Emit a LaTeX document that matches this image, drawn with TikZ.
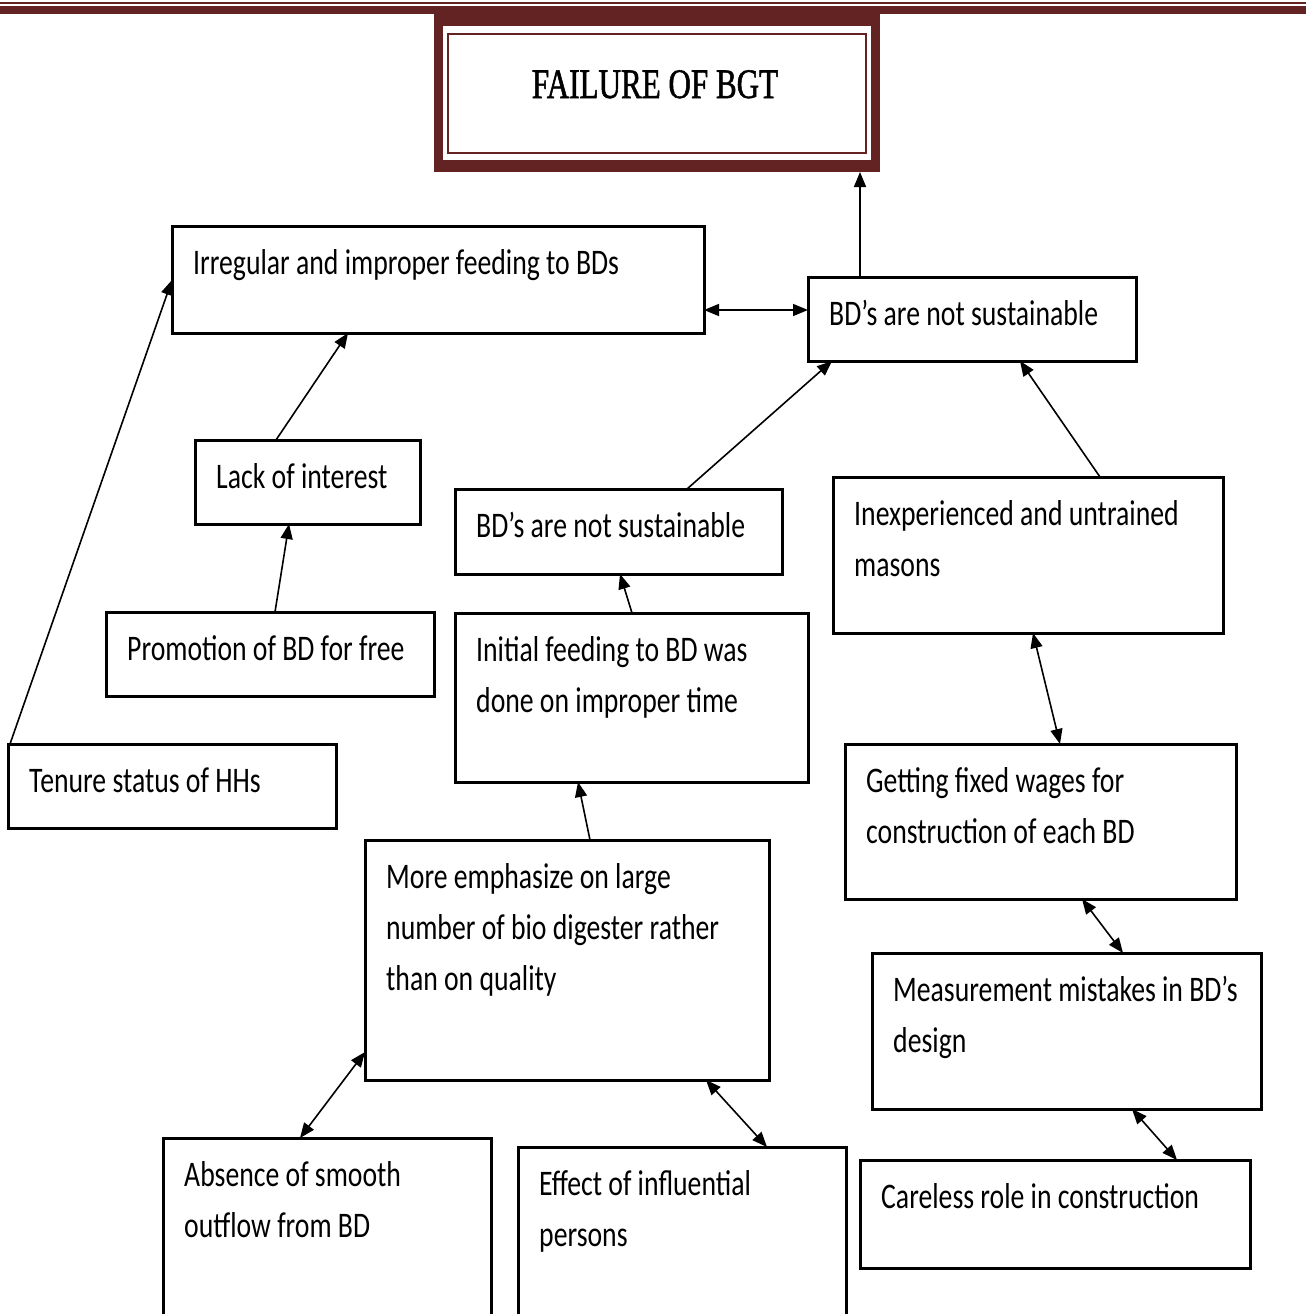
\documentclass[tikz,border=0pt]{standalone}
\usepackage{fontspec}
\setmainfont{Carlito}[FakeStretch=0.77]
\newfontfamily\titlefont{Liberation Serif}[FakeStretch=0.74,FakeBold=1.2]
\usetikzlibrary{arrows.meta}
\definecolor{maroon}{RGB}{100,35,35}
\newcommand\bx[6]{%
  \node[boxst, minimum width=#4pt-#2pt, minimum height=#5pt-#3pt, anchor=north west] (#1) at (#2,#3) {};
  \node[txtst, anchor=base west] (#1t) at (#2+21,#3+48) {\parbox[t]{\dimexpr#4pt-#2pt-24pt\relax}{\raggedright #6}};}
\begin{document}
\begin{tikzpicture}[x=1pt,y=-1pt,
  boxst/.style={draw=black, line width=3pt, fill=white, inner sep=0pt, outer sep=0pt},
  txtst/.style={inner sep=0pt, font=\fontsize{36}{51}\selectfont},
  arr/.style={line width=1.6pt, -{Triangle[length=15pt,width=12pt]}},
  darr/.style={line width=1.6pt, {Triangle[length=15pt,width=12pt]}-{Triangle[length=15pt,width=12pt]}}]
\clip (0,0) rectangle (1306,1314);
\fill[white] (0,0) rectangle (1306,1314);
% top rules
\fill[maroon] (0,2) rectangle (1306,4.5);
\fill[maroon] (0,6) rectangle (1306,14);
% title box
\node[fill=maroon, inner sep=0pt, outer sep=0pt, minimum width=446pt, minimum height=158pt, anchor=north west] (title) at (434,14) {};
\fill[white] (443,26) rectangle (871,160);
\draw[maroon, line width=2.5pt] (448,34) rectangle (866,153);
\node[inner sep=0pt, anchor=base, font=\titlefont\fontsize{42}{42}\selectfont] (titlet) at (655,98) {FAILURE OF BGT};
% boxes
\bx{irr}{172}{226}{704}{333}{Irregular and improper feeding to BDs}
\bx{bdtop}{808}{277}{1136}{361}{BD’s are not sustainable}
\bx{lack}{195}{440}{420}{524}{Lack of interest}
\bx{bdmid}{455}{489}{782}{574}{BD’s are not sustainable}
\bx{inexp}{833}{477}{1223}{633}{Inexperienced and untrained\\masons}
\bx{promo}{106}{612}{434}{696}{Promotion of BD for free}
\bx{init}{455}{613}{808}{782}{Initial feeding to BD was\\done on improper time}
\bx{tenure}{8}{744}{336}{828}{Tenure status of HHs}
\bx{wages}{845}{744}{1236}{899}{Getting fixed wages for\\construction of each BD}
\bx{more}{365}{840}{769}{1080}{More emphasize on large\\number of bio digester rather\\than on quality}
\bx{meas}{872}{953}{1261}{1109}{Measurement mistakes in BD’s\\design}
\bx{abs}{163}{1138}{491}{1340}{Absence of smooth\\outflow from BD}
\bx{eff}{518}{1147}{846}{1340}{Effect of influential\\persons}
\bx{care}{860}{1160}{1250}{1268}{Careless role in construction}
% connectors
\draw[arr] ([xshift=52pt]bdtop.north west) -- ([xshift=426pt]title.south west);
\draw[darr] ([yshift=-84pt]irr.north east) -- ([yshift=-33pt]bdtop.north west);
\draw[arr] ([xshift=81pt]lack.north west) -- ([xshift=176pt]irr.south west);
\draw[arr] ([xshift=169pt]promo.north west) -- ([xshift=94pt]lack.south west);
\draw[arr] ([xshift=2pt]tenure.north west) -- ([yshift=-54pt]irr.north west);
\draw[arr] ([xshift=232pt]bdmid.north west) -- ([xshift=24pt]bdtop.south west);
\draw[arr] ([xshift=267pt]inexp.north west) -- ([xshift=212pt]bdtop.south west);
\draw[arr] ([xshift=177pt]init.north west) -- ([xshift=165pt]bdmid.south west);
\draw[arr] ([xshift=225pt]more.north west) -- ([xshift=123pt]init.south west);
\draw[darr] ([xshift=200pt]inexp.south west) -- ([xshift=215pt]wages.north west);
\draw[darr] ([xshift=237pt]wages.south west) -- ([xshift=251pt]meas.north west);
\draw[darr] ([xshift=260pt]meas.south west) -- ([xshift=317pt]care.north west);
\draw[darr] ([yshift=28pt]more.south west) -- ([xshift=137pt]abs.north west);
\draw[darr] ([xshift=341pt]more.south west) -- ([xshift=249pt]eff.north west);
\end{tikzpicture}
\end{document}
